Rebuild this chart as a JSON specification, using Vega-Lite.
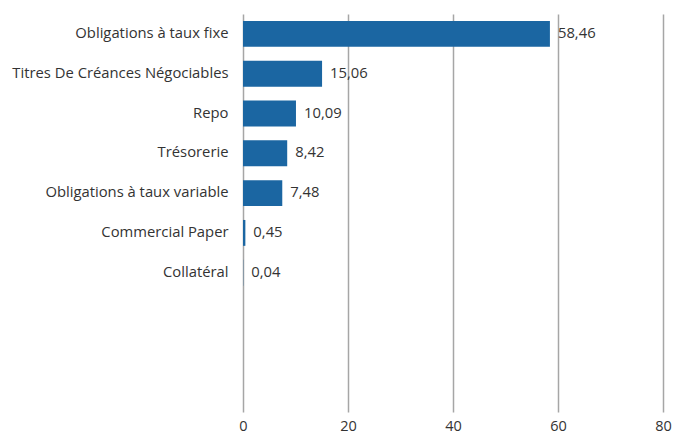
{
  "$schema": "https://vega.github.io/schema/vega-lite/v6.json",
  "autosize": "none",
  "width": 420,
  "height": 398,
  "padding": {"left": 243, "top": 14, "right": 10, "bottom": 22},
  "background": "white",
  "config": {
    "view": {"stroke": null},
    "locale": {"number": {"decimal": ",", "thousands": " ", "grouping": [3], "currency": ["", " €"]}},
    "font": "Open Sans"
  },
  "data": {
    "values": [
      {"categorie": "Obligations à taux fixe", "valeur": 58.46},
      {"categorie": "Titres De Créances Négociables", "valeur": 15.06},
      {"categorie": "Repo", "valeur": 10.09},
      {"categorie": "Trésorerie", "valeur": 8.42},
      {"categorie": "Obligations à taux variable", "valeur": 7.48},
      {"categorie": "Commercial Paper", "valeur": 0.45},
      {"categorie": "Collatéral", "valeur": 0.04}
    ]
  },
  "encoding": {
    "y": {
      "field": "categorie",
      "type": "nominal",
      "title": null,
      "scale": {
        "domain": ["Obligations à taux fixe", "Titres De Créances Négociables", "Repo", "Trésorerie", "Obligations à taux variable", "Commercial Paper", "Collatéral", " ", "  ", "   "],
        "paddingInner": 0.35,
        "paddingOuter": 0.175
      },
      "axis": {"domain": false, "ticks": false, "grid": false, "labelFontSize": 14.8, "labelColor": "#333333", "labelPadding": 15, "labelLimit": 300, "labelFont": "Open Sans"}
    },
    "x": {
      "field": "valeur",
      "type": "quantitative",
      "title": null,
      "scale": {"domain": [0, 80], "nice": false},
      "axis": {"values": [0, 20, 40, 60, 80], "domain": false, "ticks": false, "grid": true, "gridColor": "#a6a6a6", "gridWidth": 1.5, "labelFontSize": 14.5, "labelColor": "#333333", "labelPadding": 7, "labelFont": "Open Sans", "labelFlush": false}
    }
  },
  "layer": [
    {"mark": {"type": "bar", "color": "#1b66a2"}},
    {
      "mark": {"type": "text", "align": "left", "baseline": "middle", "dx": 8, "fontSize": 14.8, "color": "#333333", "font": "Open Sans"},
      "encoding": {"text": {"field": "valeur", "type": "quantitative", "format": ".2f"}}
    }
  ]
}
